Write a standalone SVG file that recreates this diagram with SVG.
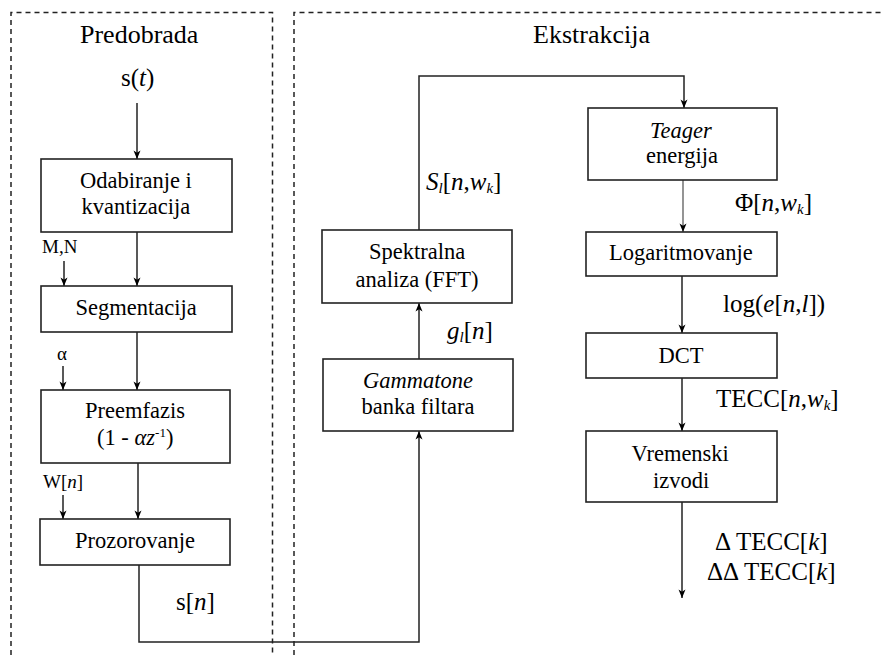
<svg xmlns="http://www.w3.org/2000/svg" width="881" height="655" viewBox="0 0 881 655" font-family="'Liberation Serif', 'Times New Roman', serif">
<defs>
<style>
text{font-family:"Liberation Serif","Times New Roman",serif;fill:#000}
.t{font-size:26px}
.b{font-size:22.5px}
.l{font-size:25px}
.s{font-size:19px}
.i{font-style:italic}
.sub{font-size:15px;font-style:italic}
.box{fill:#fff;stroke:#222;stroke-width:1.6}
.dash{fill:none;stroke:#222;stroke-width:1.5;stroke-dasharray:5 4}
.c{fill:none;stroke:#222;stroke-width:1.5}
.g{fill:none;stroke:#7a7a7a;stroke-width:1.6}
</style>
<marker id="a" viewBox="0 0 10 10" refX="10" refY="5" markerWidth="7" markerHeight="7" markerUnits="userSpaceOnUse" orient="auto" overflow="visible">
<path d="M-2,0 L10,5 L-2,10 L1,5 z" fill="#000"/>
</marker>
</defs>

<g id="frames">
<path class="dash" d="M11,655 V12.5 H272.5 V655"/>
<path class="dash" d="M294,655 V12.5 H881"/>
<text class="t" x="80" y="43">Predobrada</text>
<text class="t" x="533" y="43">Ekstrakcija</text>
</g>

<g id="connectors">
<line class="c" x1="137" y1="103" x2="137" y2="159" marker-end="url(#a)"/>
<line class="c" x1="137" y1="232" x2="137" y2="286" marker-end="url(#a)"/>
<line class="c" x1="64" y1="261" x2="64" y2="286" marker-end="url(#a)"/>
<line class="c" x1="137" y1="332" x2="137" y2="390" marker-end="url(#a)"/>
<line class="c" x1="63" y1="366" x2="63" y2="390" marker-end="url(#a)"/>
<line class="c" x1="138" y1="463" x2="138" y2="519" marker-end="url(#a)"/>
<line class="c" x1="63" y1="495" x2="63" y2="519" marker-end="url(#a)"/>
<path class="c" d="M139,565 V642 H419 V431" marker-end="url(#a)"/>
<line class="c" x1="419" y1="359" x2="419" y2="303" marker-end="url(#a)"/>
<path class="c" d="M419,230 V76 H684 V108" marker-end="url(#a)"/>
<line class="g" x1="683" y1="180" x2="683" y2="232" marker-end="url(#a)"/>
<line class="c" x1="682" y1="276" x2="682" y2="333" marker-end="url(#a)"/>
<line class="c" x1="682" y1="378" x2="682" y2="431" marker-end="url(#a)"/>
<line class="c" x1="682" y1="502" x2="682" y2="598" marker-end="url(#a)"/>
</g>

<g id="labels">
<text class="l" x="121" y="86">s(<tspan class="i">t</tspan>)</text>
<text class="s" x="42" y="253">M,N</text>
<text class="s" x="57" y="360">α</text>
<text class="s" x="43" y="488">W[<tspan class="i">n</tspan>]</text>
<text class="l" x="176" y="610">s[<tspan class="i">n</tspan>]</text>
<text class="l" x="426" y="190"><tspan class="i">S</tspan><tspan class="sub" dy="3">l</tspan><tspan dy="-3">[</tspan><tspan class="i">n</tspan>,<tspan class="i">w</tspan><tspan class="sub" dy="3">k</tspan><tspan dy="-3">]</tspan></text>
<text class="l" x="447" y="339"><tspan class="i">g</tspan><tspan class="sub" dy="3">l</tspan><tspan dy="-3">[</tspan><tspan class="i">n</tspan>]</text>
<text class="l" x="735" y="211">Φ[<tspan class="i">n</tspan>,<tspan class="i">w</tspan><tspan class="sub" dy="3">k</tspan><tspan dy="-3">]</tspan></text>
<text class="l" x="723" y="312">log(<tspan class="i">e</tspan>[<tspan class="i">n</tspan>,<tspan class="i">l</tspan>])</text>
<text class="l" x="716" y="407">TECC[<tspan class="i">n</tspan>,<tspan class="i">w</tspan><tspan class="sub" dy="3">k</tspan><tspan dy="-3">]</tspan></text>
<text class="l" x="715" y="550">Δ TECC[<tspan class="i">k</tspan>]</text>
<text class="l" x="707" y="580">ΔΔ TECC[<tspan class="i">k</tspan>]</text>
</g>

<g id="odabiranje">
<rect class="box" x="41" y="159" width="191" height="73"/>
<text class="b" x="80" y="188">Odabiranje i</text>
<text class="b" x="81.5" y="214">kvantizacija</text>
</g>
<g id="segmentacija">
<rect class="box" x="41" y="286" width="191" height="46"/>
<text class="b" x="75.5" y="315">Segmentacija</text>
</g>
<g id="preemfazis">
<rect class="box" x="41" y="390" width="189" height="73"/>
<text class="b" x="85" y="418">Preemfazis</text>
<text class="b" x="97" y="445">(1 - <tspan class="i">αz</tspan><tspan font-size="13" dy="-8">-1</tspan><tspan dy="8">)</tspan></text>
</g>
<g id="prozorovanje">
<rect class="box" x="40" y="519" width="190" height="46"/>
<text class="b" x="75" y="548">Prozorovanje</text>
</g>
<g id="gammatone">
<rect class="box" x="323" y="359" width="190" height="72"/>
<text class="b i" x="363" y="388">Gammatone</text>
<text class="b" x="361.5" y="414">banka filtara</text>
</g>
<g id="spektralna">
<rect class="box" x="322" y="230" width="190" height="73"/>
<text class="b" x="369" y="259">Spektralna</text>
<text class="b" x="355.5" y="287">analiza (FFT)</text>
</g>
<g id="teager">
<rect class="box" x="588" y="108" width="189" height="72"/>
<text class="b i" x="650" y="138">Teager</text>
<text class="b" x="646" y="163">energija</text>
</g>
<g id="logaritmovanje">
<rect class="box" x="586" y="232" width="191" height="44"/>
<text class="b" x="609" y="260">Logaritmovanje</text>
</g>
<g id="dct">
<rect class="box" x="586" y="333" width="191" height="45"/>
<text class="b" x="658.5" y="363">DCT</text>
</g>
<g id="vremenski">
<rect class="box" x="586" y="431" width="191" height="71"/>
<text class="b" x="631.5" y="461">Vremenski</text>
<text class="b" x="653" y="488">izvodi</text>
</g>
</svg>
